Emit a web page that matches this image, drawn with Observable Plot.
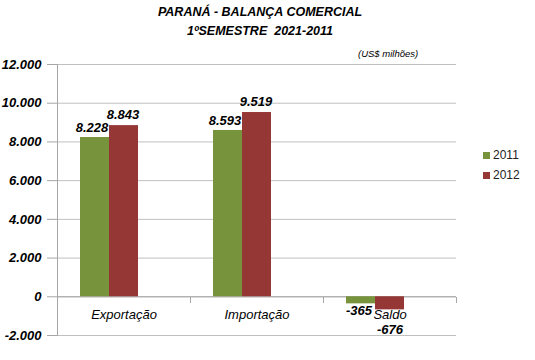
<!DOCTYPE html>
<html>
<head>
<meta charset="utf-8">
<script src="https://cdn.jsdelivr.net/npm/d3@7"></script>
<script src="https://cdn.jsdelivr.net/npm/@observablehq/plot@0.6"></script>
<style>
  body { margin: 0; background: #fff; font-family: "Liberation Sans", Arial, sans-serif; }
  #wrap { position: relative; width: 535px; height: 360px; }
  #title { width: 520px; height: 42px; box-sizing: border-box; padding-top: 3px; text-align: center;
           font-weight: bold; font-style: italic; font-size: 12.5px; line-height: 19px; color: #000; }
  #unit { position: absolute; left: 358px; top: 47px; font-style: italic; font-size: 9.5px; line-height: 14px; }
  #legend { position: absolute; left: 483px; top: 145px; font-size: 12px; line-height: 20px; color: #222; }
  #legend .sw { display: inline-block; width: 7px; height: 7px; margin-right: 3px; vertical-align: 0px; }
  svg { display: block; }
</style>
</head>
<body>
<div id="wrap">
  <div id="title">PARANÁ - BALANÇA COMERCIAL<br>1ºSEMESTRE&nbsp; 2021-2011</div>
  <div id="unit">(US$ milhões)</div>
  <div id="chart"></div>
  <div id="legend"></div>
</div>
<script>
const categories = ["Exportação", "Importação", "Saldo"];
const years = ["2011", "2012"];
const values2011 = [8228, 8593, -365];
const values2012 = [8843, 9519, -676];
const yTicks = [-2000, 0, 2000, 4000, 6000, 8000, 10000, 12000];
const colors = ["#77933C", "#953735"];

const data = [];
categories.forEach((c, i) => {
  data.push({cat: c, year: years[0], value: values2011[i]});
  data.push({cat: c, year: years[1], value: values2012[i]});
});

const loc = d3.formatLocale({decimal: ",", thousands: ".", grouping: [3], currency: ["", ""], minus: "-"});
const fmt = loc.format(",");

const labelStyle = {fontWeight: "bold", fontStyle: "italic", fontSize: 13, fill: "#000"};

const chart = Plot.plot({
  width: 535,
  height: 318,
  marginTop: 22,
  marginBottom: 25,
  marginLeft: 57,
  marginRight: 79,
  style: {fontFamily: "'Liberation Sans', Arial, sans-serif", background: "#fff"},
  fx: {domain: categories, padding: 0, axis: null},
  x: {domain: years, paddingInner: 0, paddingOuter: 1.254, align: 0.3, axis: null},
  y: {domain: [-2000, 12000], axis: null},
  color: {domain: years, range: colors},
  marks: [
    Plot.ruleY(yTicks, {stroke: "#c0c0c0", strokeWidth: 1}),
    Plot.ruleY([0], {stroke: "#a6a6a6", strokeWidth: 1}),
    Plot.frame({anchor: "right", stroke: "#a6a6a6", insetTop: 233, insetBottom: 33}),
    Plot.frame({anchor: "left", stroke: "#a6a6a6", facet: "super"}),
    Plot.axisY({ticks: yTicks, tickFormat: fmt, tickSize: 10, tickPadding: 6, stroke: "#a6a6a6", label: null,
                fontSize: 13, fontWeight: "bold", fontStyle: "italic", color: "#000"}),
    Plot.barY(data, {fx: "cat", x: "year", y: "value", fill: "year"}),
    Plot.text(data.filter(d => d.value >= 0 && d.year === years[0]),
      {fx: "cat", x: "year", y: "value", text: d => fmt(d.value), dy: -10, dx: -3, ...labelStyle}),
    Plot.text(data.filter(d => d.value >= 0 && d.year === years[1]),
      {fx: "cat", x: "year", y: "value", text: d => fmt(d.value), dy: -11, dx: -1, ...labelStyle}),
    Plot.text(data.filter(d => d.value < 0 && d.year === years[0]),
      {fx: "cat", x: "year", y: "value", text: d => fmt(d.value), dy: 7, dx: -2, ...labelStyle}),
    Plot.text(data.filter(d => d.value < 0 && d.year === years[1]),
      {fx: "cat", x: "year", y: "value", text: d => fmt(d.value), dy: 20, ...labelStyle}),
    Plot.text(categories, {fx: d => d, y: () => 0, text: d => d, dy: 18,
      fontStyle: "italic", fontSize: 13, fill: "#000"})
  ]
});
document.getElementById("chart").appendChild(chart);

const legend = document.getElementById("legend");
years.forEach((y, i) => {
  const row = document.createElement("div");
  row.innerHTML = `<span class="sw" style="background:${colors[i]}"></span>${y}`;
  legend.appendChild(row);
});
</script>
</body>
</html>
